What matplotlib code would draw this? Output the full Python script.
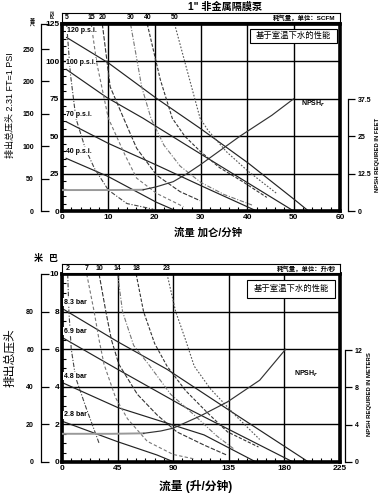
import matplotlib
matplotlib.use('Agg')
import matplotlib.pyplot as plt
from matplotlib.patches import Rectangle
import numpy as np

plt.rcParams['font.family'] = ['Liberation Sans', 'Noto Sans CJK SC']
plt.rcParams['font.weight'] = 'bold'

W, H = 383, 501

# ---- top chart: US units (gpm vs psi) ----
top_lines_lbl = ["120 p.s.i.", "100 p.s.i.", "70 p.s.i.", "40 p.s.i."]
top_lines_x = [[1.0, 10, 20.4, 29.8, 40.2, 50.3, 53.2],
               [0.9, 9.6, 17.5, 20.4, 30, 40, 50],
               [0.9, 10, 20.4, 30.5, 42],
               [0.9, 10, 20.4, 24.7]]
top_lines_y = [[116, 99, 75.3, 55.3, 32, 7.3, 0],
               [94.7, 76, 62, 56.4, 38, 19, 0],
               [59.7, 45.2, 30.7, 16.2, 0],
               [35.2, 23, 5.8, 0]]

top_air_lbl = ["5", "15", "20", "30", "40", "50"]
top_air_x = [[1.0, 1.8, 3.0, 5.0, 7.0, 10.0, 14.0, 19.7],
             [6.3, 7.5, 10.0, 13.6, 16.1, 20.4, 26.2],
             [8.7, 10.4, 13.3, 16.1, 20.4, 25.5, 29.8],
             [14.8, 17.2, 19.2, 22.0, 25.5, 30.0, 35.0, 41.0],
             [18.4, 21.2, 23.8, 26.5, 29.8, 34.0, 39.0, 44.2],
             [24.3, 27.0, 29.8, 31.5, 35.5, 40.0, 46.3]]
top_air_y = [[125, 92, 62, 42, 28.5, 14, 5, 1.2],
             [125, 99, 62, 37.4, 22, 11.8, 2.9],
             [125, 83, 62, 42, 24, 12.9, 6.9],
             [125, 83, 62, 44, 30, 19, 11, 4],
             [125, 88, 62, 50, 40, 29, 19.6, 9.1],
             [125, 94, 62, 54, 39.6, 27, 11.8]]

# NPSHr in feet; the first points are the flat (grey) part
top_npsh_x = [0, 10, 17.5, 20.4, 24, 27, 29.8, 38.4, 45.3, 50]
top_npsh_y = [7, 7, 7.1, 8.1, 9.8, 12.5, 15.4, 25, 32, 37.5]

# ---- bottom chart: metric (lpm vs bar) ----
bot_lines_lbl = ["8.3 bar", "6.9 bar", "4.8 bar", "2.8 bar"]
bot_lines_x = [[1.3, 45, 85, 140, 199.5],
               [1.3, 45, 100, 187],
               [1.3, 45, 115, 157],
               [1.3, 45, 77, 90.6]]
bot_lines_y = [[8.12, 6.4, 4.93, 2.55, 0],
               [6.58, 4.93, 2.9, 0],
               [4.19, 2.9, 1.44, 0],
               [2.14, 1.08, 0.37, 0]]

bot_air_lbl = ["2", "7", "10", "14", "18", "23"]
bot_air_x = [[4.6, 5.6, 7.5, 11, 19.4, 25, 30],
             [20, 26, 30, 34, 43.5, 53, 69, 90, 108],
             [30, 35.5, 40, 46, 61, 77, 93, 115, 134],
             [45, 49, 58, 70, 88, 107, 125, 139],
             [60, 66, 75, 85, 100, 118, 134, 159],
             [85, 92, 100, 107, 120, 140, 160]]
bot_air_y = [[10, 8, 6, 4.5, 2.9, 1.9, 1.0],
             [10, 8, 6.5, 5.2, 3.4, 2.3, 1.1, 0.4, 0.15],
             [10, 8, 6.5, 5.2, 3.6, 2.5, 1.6, 0.9, 0.35],
             [10, 8, 6.2, 5.2, 3.6, 2.5, 1.4, 0.7],
             [10, 8, 6.3, 5.1, 3.8, 2.6, 1.6, 0.8],
             [10, 8, 6.5, 5.1, 3.9, 2.5, 1.2]]

# NPSHr in meters
bot_npsh_x = [0, 40, 66, 80, 90, 112, 134, 160, 181]
bot_npsh_y = [3.0, 3.0, 3.05, 3.3, 3.6, 4.9, 6.4, 8.7, 12]

air_styles = [(0, (4, 1.5, 1, 1.5)), (0, (3, 2)), (0, (4, 1.5)),
              (0, (4, 1.5, 1, 1.5)), (0, (3, 1.5)), (0, (1.5, 1.5))]
air_colors = ['#444444', '#777777', '#333333', '#777777', '#333333', '#555555']


def box(px_l, px_t, px_r, px_b):
    return [px_l / W, 1 - px_b / H, (px_r - px_l) / W, (px_b - px_t) / H]


def ftxt(px, py, s, **kw):
    fig.text(px / W, 1 - py / H, s, **kw)


fig = plt.figure(figsize=(W / 100, H / 100), dpi=100)


def panel(y_top, y_bot, xmax, xstep, xminor, ymax, ystep, yminor,
          lines_x, lines_y, lines_lbl, air_x, air_y, air_lbl,
          npsh_x, npsh_y, n_flat, npsh_max, npsh_ticks, npsh_axis_top, npsh_axis_x,
          left_max, left_ticks, bar_top, air_unit, leg_px, npsh_xy):
    ax = fig.add_axes(box(62, y_top, 340, y_bot))
    ax.set_xlim(0, xmax)
    ax.set_ylim(0, ymax)
    ax.set_xticks(np.arange(0, xmax + 0.01, xstep))
    ax.set_yticks(np.arange(0, ymax + 0.01, ystep))
    ax.set_xticks(np.arange(0, xmax, xminor), minor=True)
    ax.set_yticks(np.arange(0, ymax, yminor), minor=True)
    ax.tick_params(which='major', length=0, labelsize=6, pad=2)
    ax.tick_params(which='minor', direction='in', length=3, width=0.8)
    ax.grid(True, which='major', color='black', lw=1.0)
    for s in ax.spines.values():
        s.set_linewidth(2.6)
    for lab in ax.get_xticklabels() + ax.get_yticklabels():
        lab.set_fontweight('bold')

    for xs, ys, lb in zip(lines_x, lines_y, lines_lbl):
        ax.plot(xs, ys, color='#222222', lw=0.85)
        ax.annotate(lb, (xs[0], ys[0]), xytext=(0, 2.5), textcoords='offset points',
                    fontsize=5, fontweight='bold', va='bottom', ha='left',
                    bbox=dict(fc='white', ec='none', pad=0.3))

    for i, (xs, ys) in enumerate(zip(air_x, air_y)):
        ax.plot(xs, ys, color=air_colors[i], lw=0.8, linestyle=air_styles[i])

    axn = ax.twinx()
    axn.set_ylim(0, npsh_max)
    axn.set_axis_off()
    axn.plot(npsh_x[:n_flat], npsh_y[:n_flat], color='#999999', lw=1.4)
    axn.plot(npsh_x[n_flat - 1:], npsh_y[n_flat - 1:], color='#333333', lw=0.85)
    ax.text(npsh_xy[0], npsh_xy[1], 'NPSH$_r$', fontsize=5, fontweight='bold',
            transform=ax.transData)

    # legend box
    l, t, r, b = leg_px
    fig.patches.append(Rectangle((l / W, 1 - b / H), (r - l) / W, (b - t) / H,
                                 transform=fig.transFigure, fc='white', ec='black',
                                 lw=0.8, zorder=5))
    ftxt((l + r) / 2, (t + b) / 2, '基于室温下水的性能', fontsize=6, fontweight='normal',
         ha='center', va='center', zorder=6)

    # air consumption bar across the top
    ab = fig.add_axes(box(62, bar_top, 340, bar_top + 9))
    ab.set_xlim(0, xmax)
    ab.set_ylim(0, 1)
    ab.set_xticks([])
    ab.set_yticks([])
    for s in ab.spines.values():
        s.set_linewidth(0.8)
    for xs, lb in zip(air_x, air_lbl):
        ab.text(xs[0], 0.45, lb, fontsize=5, fontweight='bold', ha='center', va='center')
    ab.text(0.985, 0.45, air_unit, fontsize=4.6, ha='right', va='center',
            transform=ab.transAxes)

    # left secondary head axis
    al = fig.add_axes(box(41, y_top, 48, y_bot))
    al.set_ylim(0, left_max)
    al.set_xticks([])
    for k in ['right', 'top', 'bottom']:
        al.spines[k].set_visible(False)
    al.patch.set_alpha(0)
    al.spines['left'].set_linewidth(0.9)
    al.set_yticks(left_ticks + [left_max])
    al.set_yticklabels([str(t) for t in left_ticks] + [''], fontsize=5, fontweight='bold')
    al.tick_params(axis='y', direction='in', length=6, width=0.9, pad=5)

    # right NPSH axis
    ar = fig.add_axes(box(npsh_axis_x - 5, npsh_axis_top, npsh_axis_x, y_bot))
    ar.set_ylim(0, npsh_ticks[-1])
    ar.set_xticks([])
    for k in ['left', 'top', 'bottom']:
        ar.spines[k].set_visible(False)
    ar.patch.set_alpha(0)
    ar.spines['right'].set_linewidth(0.9)
    ar.yaxis.tick_right()
    ar.set_yticks(npsh_ticks)
    ar.set_yticklabels([('%g' % t) for t in npsh_ticks], fontsize=5, fontweight='bold')
    ar.tick_params(axis='y', direction='out', length=5, width=0.9, pad=2)
    return ax


ax1 = panel(24, 211, 60, 10, 2, 125, 25, 5,
            top_lines_x, top_lines_y, top_lines_lbl, top_air_x, top_air_y, top_air_lbl,
            top_npsh_x, top_npsh_y, 3, 62.5, [0, 12.5, 25, 37.5], 99, 348,
            288.75, [0, 50, 100, 150, 200, 250], 13, '耗气量，单位：SCFM',
            (250, 29, 337, 43), (51.5, 70))
ax2 = panel(274, 462, 225, 45, 7.5, 10, 2, 0.5,
            bot_lines_x, bot_lines_y, bot_lines_lbl, bot_air_x, bot_air_y, bot_air_lbl,
            bot_npsh_x, bot_npsh_y, 3, 20, [0, 4, 8, 12], 350, 345,
            100, [0, 20, 40, 60, 80], 264, '耗气量，单位：升/秒',
            (247, 280, 335, 298), (188, 4.6))

# titles, axis names, unit marks
ftxt(225, 7, '1" 非金属隔膜泵', fontsize=7.3, fontweight='bold', ha='center', va='center')
ftxt(10, 105, '排出总压头 2.31 FT=1 PSI', fontsize=6.5, fontweight='normal',
     rotation=90, ha='center', va='center')
ftxt(208, 233, '流量 加仑/分钟', fontsize=7.5, fontweight='bold', ha='center', va='center')
ftxt(32, 22, '英\n尺', fontsize=3.6, fontweight='bold', ha='center', va='center',
     linespacing=0.9)
ftxt(53, 14, 'PSI', fontsize=3.8, fontweight='bold', rotation=90, ha='center', va='center')
ftxt(377, 155, 'NPSH REQUIRED IN FEET', fontsize=4.3, rotation=90, ha='center', va='center')

ftxt(10, 358, '排出总压头', fontsize=8.5, fontweight='normal', rotation=90,
     ha='center', va='center')
ftxt(196, 486, '流量 (升/分钟)', fontsize=8.5, fontweight='bold', ha='center', va='center')
ftxt(38, 258, '米', fontsize=6.5, fontweight='bold', ha='center', va='center')
ftxt(53, 258, '巴', fontsize=6.5, fontweight='bold', ha='center', va='center')
ftxt(370, 394, 'NPSH REQUIRED IN METERS', fontsize=4.3, rotation=90, ha='center', va='center')

fig.savefig('out.png', dpi=100)
